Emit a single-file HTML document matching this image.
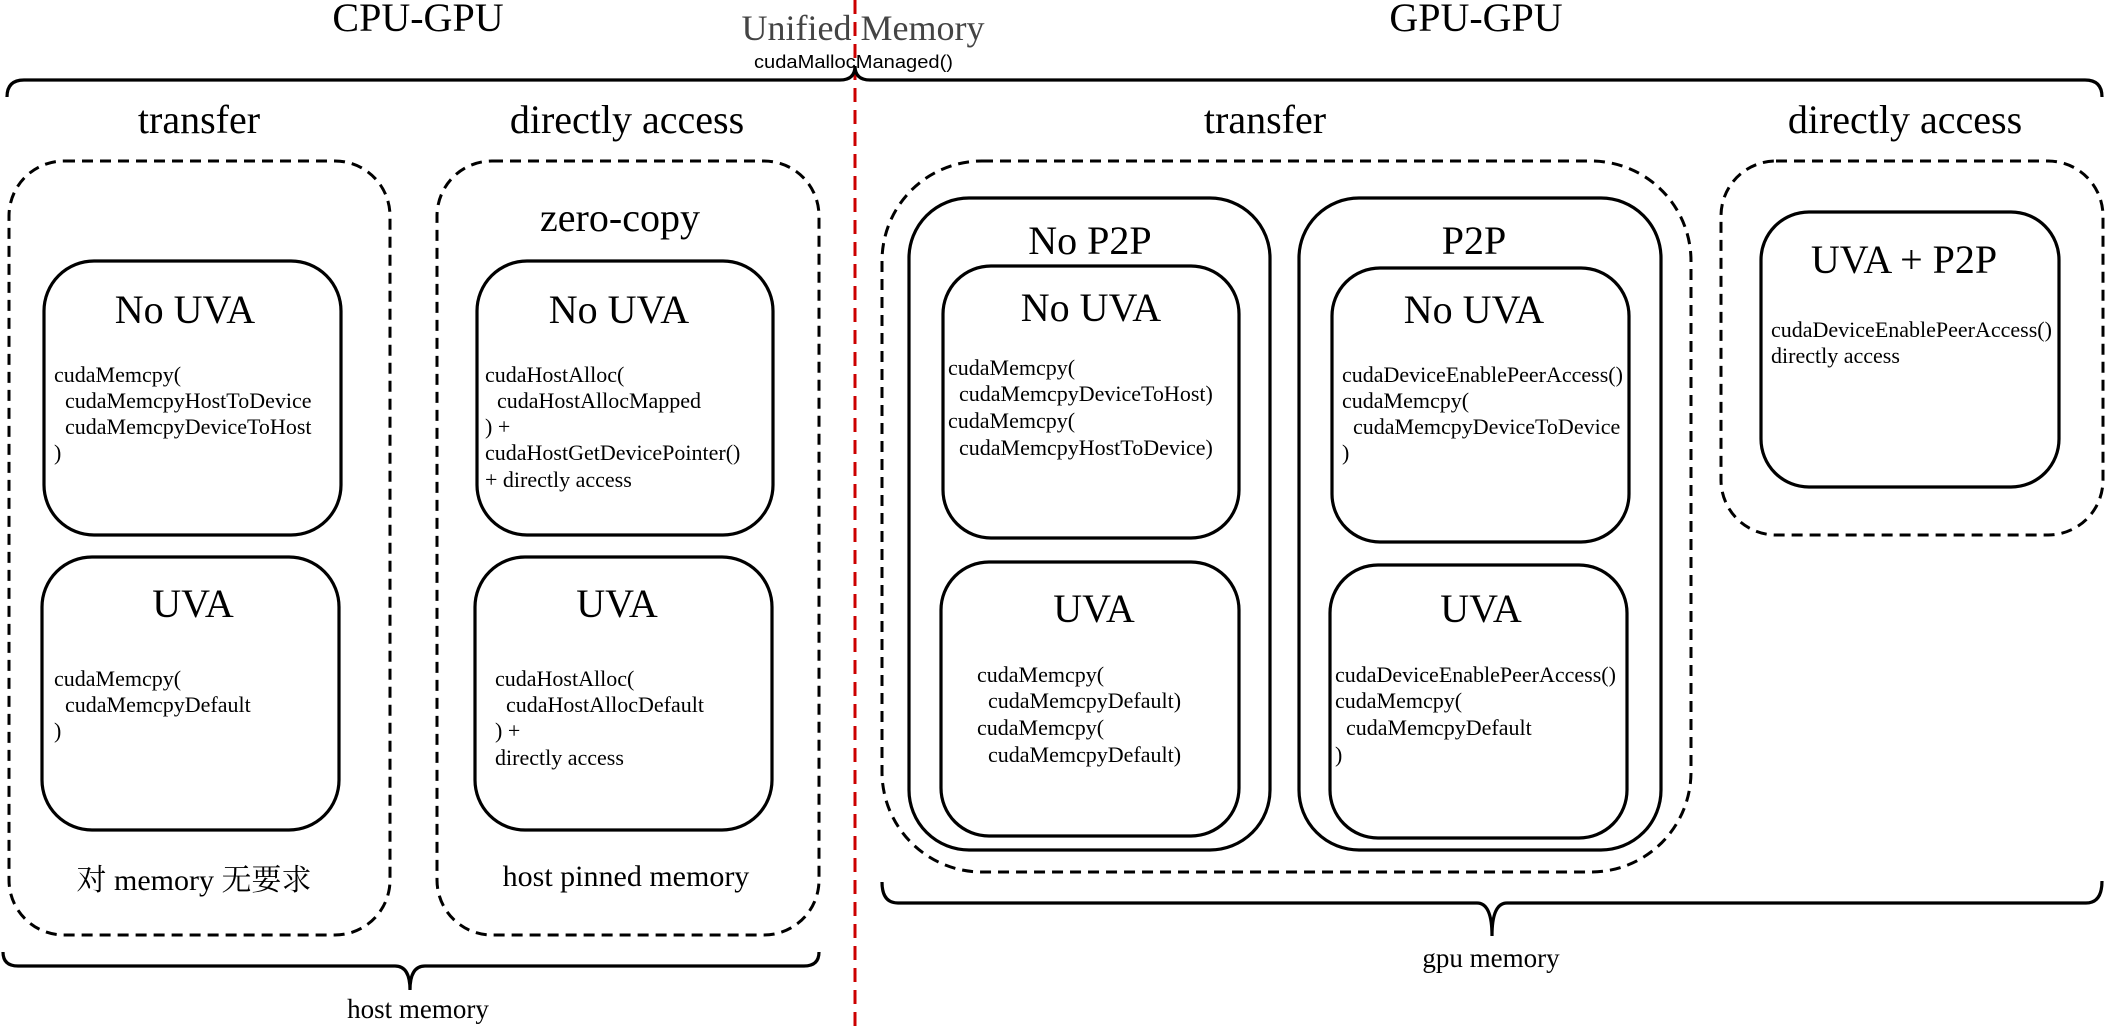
<!DOCTYPE html>
<html><head><meta charset="utf-8"><style>
html,body{margin:0;padding:0;background:#fff;width:2108px;height:1026px;overflow:hidden}
svg{display:block}
text{font-family:"Liberation Serif","Noto Serif CJK SC","Noto Sans CJK SC",serif;fill:#000}
.t{font-size:40px;text-anchor:middle}
.h{font-size:40px;text-anchor:middle}
.c{font-size:22px}
.s{font-size:27px;text-anchor:middle}
.box{fill:none;stroke:#000;stroke-width:3.2}
.dash{fill:none;stroke:#000;stroke-width:3;stroke-dasharray:11 7}
.br{fill:none;stroke:#000;stroke-width:3.2}
</style></head><body>
<svg width="2108" height="1026" viewBox="0 0 2108 1026" xmlns="http://www.w3.org/2000/svg">
<text class="t" x="418" y="31">CPU-GPU</text>
<text class="t" x="1476" y="31">GPU-GPU</text>
<text x="863" y="40" style="font-size:36px;text-anchor:middle;fill:#444">Unified Memory</text>
<text x="754" y="68" textLength="199" lengthAdjust="spacingAndGlyphs" style="font-family:'Liberation Sans',sans-serif;font-size:18px">cudaMallocManaged()</text>

<line x1="855" y1="0" x2="855" y2="1026" stroke="#cc0000" stroke-width="3" stroke-dasharray="14 8"/>

<path class="br" d="M7,97 Q7,80 24,80 L840,80 Q855,80 855,66 Q855,80 870,80 L2085,80 Q2102,80 2102,97"/>

<text class="t" x="199" y="133">transfer</text>
<text class="t" x="627" y="133">directly access</text>
<text class="t" x="1265" y="133">transfer</text>
<text class="t" x="1905" y="133">directly access</text>

<rect class="dash" x="9" y="161" width="381" height="774" rx="55"/>
<rect class="dash" x="437" y="161" width="382" height="774" rx="55"/>
<text class="t" x="620" y="231">zero-copy</text>

<rect class="box" x="44" y="261" width="297" height="274" rx="50"/>
<text class="h" x="185" y="323">No UVA</text>
<text class="c" x="54" y="382">cudaMemcpy(</text>
<text class="c" x="65" y="408">cudaMemcpyHostToDevice</text>
<text class="c" x="65" y="434">cudaMemcpyDeviceToHost</text>
<text class="c" x="54" y="460">)</text>

<rect class="box" x="42" y="557" width="297" height="273" rx="50"/>
<text class="h" x="193" y="617">UVA</text>
<text class="c" x="54" y="686">cudaMemcpy(</text>
<text class="c" x="65" y="712">cudaMemcpyDefault</text>
<text class="c" x="54" y="738">)</text>
<text class="s" x="194" y="890" style="font-size:30px">对 memory 无要求</text>

<rect class="box" x="477" y="261" width="296" height="274" rx="50"/>
<text class="h" x="619" y="323">No UVA</text>
<text class="c" x="485" y="382">cudaHostAlloc(</text>
<text class="c" x="497" y="408">cudaHostAllocMapped</text>
<text class="c" x="485" y="434">) +</text>
<text class="c" x="485" y="460">cudaHostGetDevicePointer()</text>
<text class="c" x="485" y="487">+ directly access</text>

<rect class="box" x="475" y="557" width="297" height="273" rx="50"/>
<text class="h" x="617" y="617">UVA</text>
<text class="c" x="495" y="686">cudaHostAlloc(</text>
<text class="c" x="506" y="712">cudaHostAllocDefault</text>
<text class="c" x="495" y="738">) +</text>
<text class="c" x="495" y="765">directly access</text>
<text class="s" x="626" y="886" style="font-size:30px">host pinned memory</text>

<path class="br" d="M3,952 Q3,966 18,966 L395,966 Q410,966 410,990 Q410,966 425,966 L804,966 Q819,966 819,952"/>
<text class="s" x="418" y="1018">host memory</text>

<rect class="dash" x="882" y="161" width="809" height="711" rx="100"/>
<rect class="box" x="909" y="198" width="361" height="652" rx="60"/>
<text class="h" x="1090" y="254">No P2P</text>
<rect class="box" x="943" y="266" width="296" height="272" rx="48"/>
<text class="h" x="1091" y="321">No UVA</text>
<text class="c" x="948" y="375">cudaMemcpy(</text>
<text class="c" x="959" y="401">cudaMemcpyDeviceToHost)</text>
<text class="c" x="948" y="428">cudaMemcpy(</text>
<text class="c" x="959" y="455">cudaMemcpyHostToDevice)</text>

<rect class="box" x="941" y="562" width="298" height="274" rx="48"/>
<text class="h" x="1094" y="622">UVA</text>
<text class="c" x="977" y="682">cudaMemcpy(</text>
<text class="c" x="988" y="708">cudaMemcpyDefault)</text>
<text class="c" x="977" y="735">cudaMemcpy(</text>
<text class="c" x="988" y="762">cudaMemcpyDefault)</text>

<rect class="box" x="1299" y="198" width="362" height="652" rx="60"/>
<text class="h" x="1474" y="254">P2P</text>
<rect class="box" x="1332" y="268" width="297" height="274" rx="48"/>
<text class="h" x="1474" y="323">No UVA</text>
<text class="c" x="1342" y="382">cudaDeviceEnablePeerAccess()</text>
<text class="c" x="1342" y="408">cudaMemcpy(</text>
<text class="c" x="1353" y="434">cudaMemcpyDeviceToDevice</text>
<text class="c" x="1342" y="460">)</text>

<rect class="box" x="1330" y="565" width="297" height="273" rx="48"/>
<text class="h" x="1481" y="622">UVA</text>
<text class="c" x="1335" y="682">cudaDeviceEnablePeerAccess()</text>
<text class="c" x="1335" y="708">cudaMemcpy(</text>
<text class="c" x="1346" y="735">cudaMemcpyDefault</text>
<text class="c" x="1335" y="762">)</text>

<rect class="dash" x="1721" y="161" width="382" height="374" rx="55"/>
<rect class="box" x="1761" y="212" width="298" height="275" rx="48"/>
<text class="h" x="1904" y="273">UVA + P2P</text>
<text class="c" x="1771" y="337">cudaDeviceEnablePeerAccess()</text>
<text class="c" x="1771" y="363">directly access</text>

<path class="br" d="M882,882 Q882,903 898,903 L1477,903 Q1492,903 1492,936 Q1492,903 1507,903 L2086,903 Q2102,903 2102,881"/>
<text class="s" x="1491" y="967">gpu memory</text>
</svg>
</body></html>
